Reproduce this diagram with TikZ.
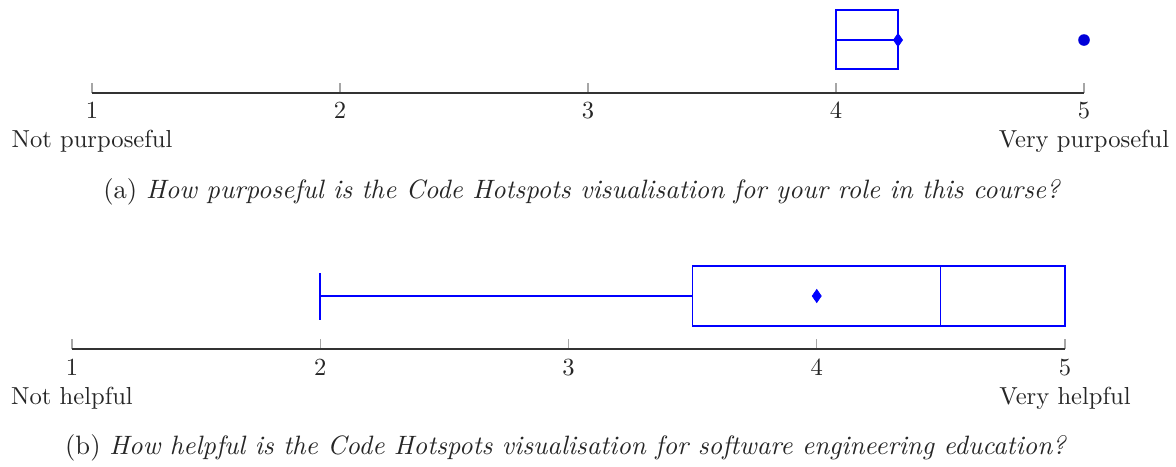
\documentclass[tikz,border=0pt]{standalone}
\usepackage{tikz}
\begin{document}
\begin{tikzpicture}[x=0.4066pt,y=-0.4066pt,
  axisline/.style={draw=black!80,line width=0.45pt},
  tickmark/.style={draw=black!35,line width=0.45pt},
  ticklabel/.style={anchor=base,inner sep=0pt,text=black!85,font=\fontsize{10}{12}\selectfont},
  endlabel/.style={anchor=base,inner sep=0pt,text=black!85,font=\fontsize{10}{12}\selectfont},
  captionlabel/.style={anchor=base,inner sep=0pt,text=black!85,font=\fontsize{10.8}{13}\selectfont},
  boxline/.style={draw=blue,line width=0.45pt},
  meanmark/.style={fill=blue,draw=blue,line width=0.3pt},
  outlier/.style={fill=blue!85!black,draw=none}]
\useasboundingbox (0,0) rectangle (1176,466);

% ---------- (a) purposeful ----------
\foreach \v/\x in {1/92,2/340,3/588,4/836,5/1084}{
  \coordinate (at\v) at (\x,93);
  \draw[tickmark] (\x,83) -- (at\v);
  \node[ticklabel] (la\v) at (\x,118) {\v};
}
\draw[axisline] (at1) -- (at5);
\node[endlabel] (alow) at (92,147) {Not purposeful};
\node[endlabel] (ahigh) at (1084,147) {Very purposeful};

% box: lower quartile = median = 4, upper quartile 4.25
\coordinate (abl) at (836,69);
\coordinate (atr) at (898,10);
\draw[boxline] (abl) rectangle (atr);
\draw[boxline,line width=0.8pt] (836,10) -- (836,69);
\coordinate (awl) at (836,40);
\coordinate (awr) at (898,40);
\draw[boxline] (awl) -- (awr);
\fill[meanmark] (898,33.5) -- (902.5,40) -- (898,46.5) -- (893.5,40) -- cycle;
\fill[outlier] (1084,40) circle (5.8);

\node[captionlabel] (capa) at (582,198) {(a) \textit{How purposeful is the Code Hotspots visualisation for your role in this course?}};

% ---------- (b) helpful ----------
\foreach \v/\x in {1/72,2/320.25,3/568.5,4/816.75,5/1065}{
  \coordinate (bt\v) at (\x,349);
  \draw[tickmark] (\x,339) -- (bt\v);
  \node[ticklabel] (lb\v) at (\x,375) {\v};
}
\draw[axisline] (bt1) -- (bt5);
\node[endlabel] (blow) at (72,404) {Not helpful};
\node[endlabel] (bhigh) at (1065,404) {Very helpful};

% whisker from 2 to the lower quartile 3.5
\coordinate (bcapt) at (320,273);
\coordinate (bcapb) at (320,320);
\draw[boxline] (bcapt) -- (bcapb);
\coordinate (bwl) at (320,296);
\coordinate (bwr) at (692.6,296);
\draw[boxline] (bwl) -- (bwr);
% box 3.5 .. 5 with median 4.5
\draw[boxline] (692.6,266) rectangle (1065,326);
\draw[boxline] (940.9,266) -- (940.9,326);
\fill[meanmark] (816.75,289.5) -- (821.25,296) -- (816.75,302.5) -- (812.25,296) -- cycle;

\node[captionlabel] (capb) at (566,454) {(b) \textit{How helpful is the Code Hotspots visualisation for software engineering education?}};
\end{tikzpicture}
\end{document}
